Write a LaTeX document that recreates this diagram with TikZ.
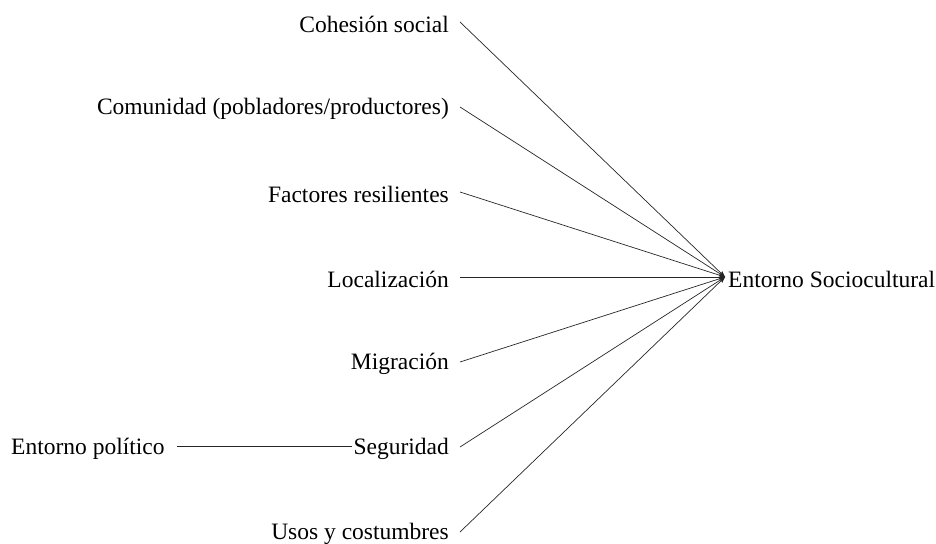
\documentclass[tikz,border=0pt]{standalone}
\usepackage{fontspec}
\setmainfont{Liberation Serif}
\usetikzlibrary{arrows.meta}
\begin{document}
\begin{tikzpicture}[x=1pt,y=-1pt,
  lbl/.style={inner sep=0pt,font=\fontsize{23.5}{26}\selectfont,anchor=east},
  conn/.style={line width=0.7pt,black!85},
  arr/.style={conn,-{Stealth[length=6pt,width=4.5pt]}}]
\useasboundingbox (0,0) rectangle (936,543);
\node[lbl] (c1) at (449,24) {Cohesión social};
\node[lbl] (c2) at (449,109) {Comunidad (pobladores/productores)};
\node[lbl] (c3) at (449,194) {Factores resilientes};
\node[lbl] (c4) at (449,279) {Localización};
\node[lbl] (c5) at (449,364) {Migración};
\node[lbl] (c6) at (449,449) {Seguridad};
\node[lbl] (c7) at (449,534) {Usos y costumbres};
\node[lbl,anchor=west,inner xsep=3pt] (es) at (725,279) {Entorno Sociocultural};
\node[lbl,anchor=west] (pol) at (11,449) {Entorno político};
\foreach \i in {1,...,7}{
  \draw[arr] ([xshift=11pt,yshift=2pt]c\i.east) -- ([yshift=2pt]es.west);
}
\draw[conn] ([xshift=12pt,yshift=3pt]pol.east) -- ([xshift=-1pt,yshift=3pt]c6.west);
\end{tikzpicture}
\end{document}
